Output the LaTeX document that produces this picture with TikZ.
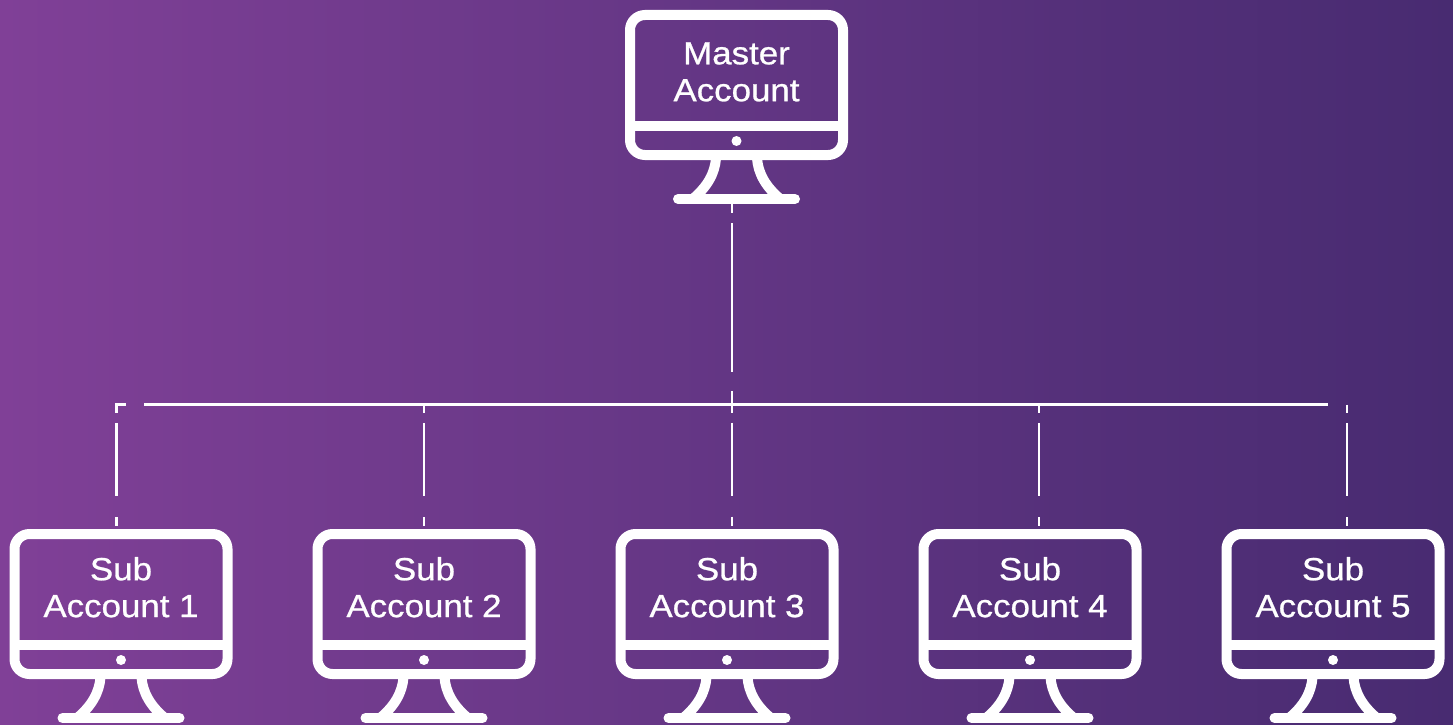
\documentclass[tikz,border=0pt]{standalone}
\usepackage{fontspec}
\setmainfont[FakeStretch=1.09,FakeBold=0.8]{Liberation Sans}
\definecolor{bgA}{RGB}{128,64,151}
\definecolor{bgB}{RGB}{99,54,132}
\definecolor{bgC}{RGB}{85,48,122}
\definecolor{bgD}{RGB}{72,43,113}
\pgfdeclarehorizontalshading{bgshade}{100bp}{color(0bp)=(bgA); color(25bp)=(bgA); color(50bp)=(bgB); color(61.5bp)=(bgC); color(75bp)=(bgD); color(100bp)=(bgD)}
\tikzset{
  screenbox/.style={draw=white,line width=10pt,rounded corners=15pt,minimum width=213pt,minimum height=140pt,inner sep=0pt,outer sep=0pt},
  standline/.style={draw=white,line width=10pt},
  baseline/.style={draw=white,line width=10pt,line cap=round},
  caption/.style={text=white,align=center,inner sep=0pt,font=\fontsize{32}{37}\selectfont,anchor=base},
  conn/.style={draw=white,line width=2.5pt},
  dropdash/.style={conn,dash pattern=on 8.7pt off 10pt on 73pt off 21pt on 9pt}
}
% #1 name, #2 centre x, #3 outer top y, #4 first line, #5 second line, #6 first baseline offset
\newcommand{\monitorat}[6]{%
  \begin{scope}[shift={(#2,#3)}]
    \node[screenbox] (#1) at (0,75) {};
    \draw[standline] (-106.5,116) -- (106.5,116);
    \fill[white] (0,131) circle (5);
    \draw[standline] (-20.5,148) .. controls (-21.5,163) and (-29,177) .. (-45,190);
    \draw[standline] (20.5,148) .. controls (21.5,163) and (29,177) .. (45,190);
    \draw[baseline] (-58.5,189) -- (58.5,189);
    \node[caption] (#1-a) at (0,#6) {#4};
    \node[caption] (#1-b) at (0,#6+36.9) {#5};
  \end{scope}}
\begin{document}
\begin{tikzpicture}[x=1pt,y=-1pt]
\useasboundingbox (0,0) rectangle (1453,725);
\shade[shading=bgshade] (0,0) rectangle (1453,725);
\monitorat{master}{736.5}{10}{Master}{Account}{54.3}
\monitorat{subA}{121}{529}{Sub}{Account 1}{51.2}
\monitorat{subB}{424}{529}{Sub}{Account 2}{51.2}
\monitorat{subC}{727}{529}{Sub}{Account 3}{51.2}
\monitorat{subD}{1030}{529}{Sub}{Account 4}{51.2}
\monitorat{subE}{1333}{529}{Sub}{Account 5}{51.2}
\coordinate (busL) at (144,404.5);
\coordinate (busR) at (1328,404.5);
\coordinate (corner) at (116.5,404.5);
\coordinate (jB) at (424,404.5);
\coordinate (jD) at (1039,404.5);
\coordinate (jE) at (1347,404.5);
\coordinate (mOut) at (732,204);
\coordinate (inA) at (116.5,526);
\coordinate (inB) at (424,526);
\coordinate (inC) at (732,526);
\coordinate (inD) at (1039,526);
\coordinate (inE) at (1347,526);
\draw[conn] (busL) -- (busR);
\draw[conn,dash pattern=on 0pt off 18.4pt on 17.7pt off 10pt on 73pt off 21pt on 9pt] (busL) -- (corner) -- (inA);
\draw[dropdash] (jB) -- (inB);
\draw[conn,dash pattern=on 9pt off 10pt on 149pt off 19pt on 21.7pt off 10pt on 73pt off 21pt on 9pt] (mOut) -- (inC);
\draw[dropdash] (jD) -- (inD);
\draw[dropdash] (jE) -- (inE);
\end{tikzpicture}
\end{document}
